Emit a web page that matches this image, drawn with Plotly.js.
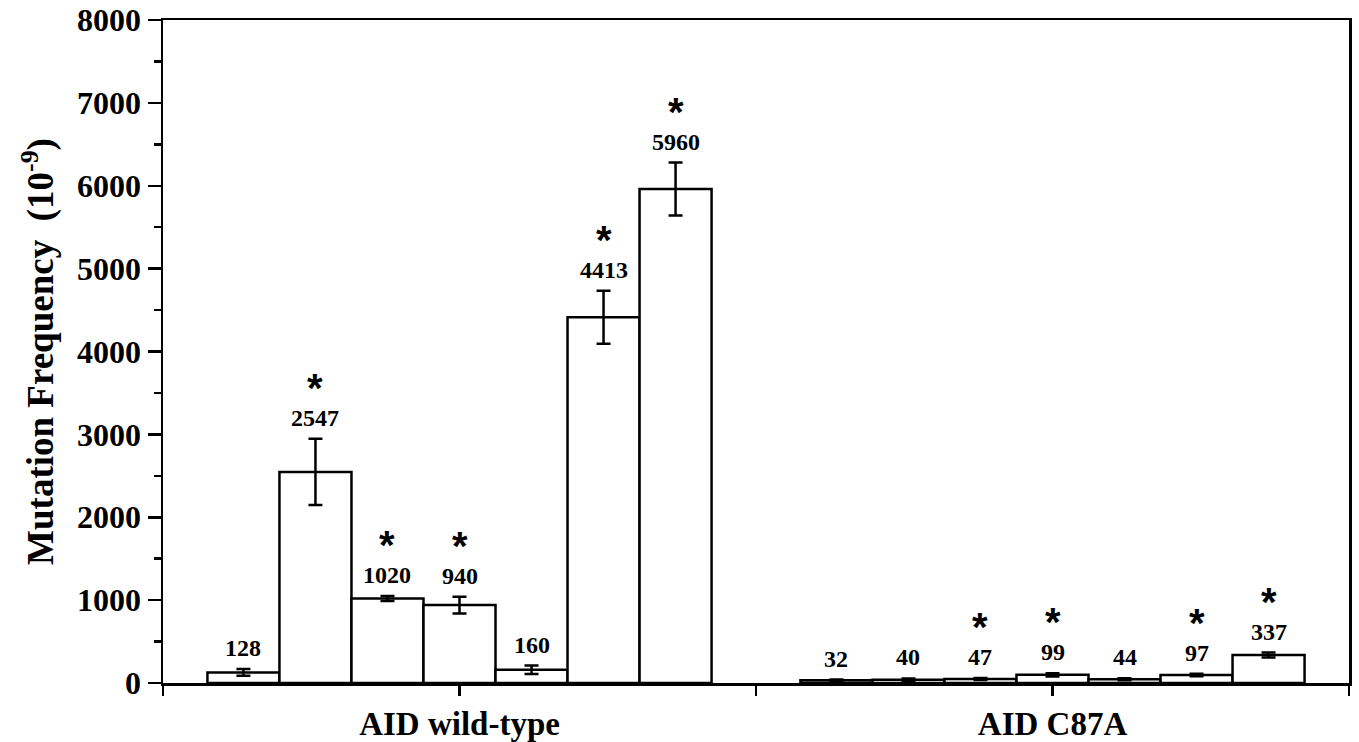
<!DOCTYPE html>
<html>
<head>
<meta charset="utf-8">
<script src="https://cdn.plot.ly/plotly-3.0.1.min.js"></script>
<style>html,body{margin:0;padding:0;background:#fff;}#chart{width:1359px;height:742px;}</style>
</head>
<body>
<div id="chart"></div>
<script>
// ---- data ----
const groups = ['AID wild-type', 'AID C87A'];
const wildType = [128, 2547, 1020, 940, 160, 4413, 5960];
const wildTypeErr = [40, 400, 30, 100, 50, 320, 320];
const wildTypeSig = [false, true, true, true, false, true, true];
const c87a = [32, 40, 47, 99, 44, 97, 337];
const c87aErr = [10, 15, 12, 20, 12, 15, 30];
const c87aSig = [false, false, true, true, false, true, true];
const yTickVals = [0, 1000, 2000, 3000, 4000, 5000, 6000, 7000, 8000];

// ---- build ----
const groupCenters = [1, 3];
const barW = 0.2429;
const series = [
  {vals: wildType, errs: wildTypeErr, sig: wildTypeSig},
  {vals: c87a, errs: c87aErr, sig: c87aSig}
];
const xs = [], ys = [], es = [], annotations = [];
const serif = 'Liberation Serif, Times New Roman, serif';
series.forEach((s, g) => {
  const n = s.vals.length;
  s.vals.forEach((v, i) => {
    const x = groupCenters[g] + (i - (n - 1) / 2) * barW;
    xs.push(x); ys.push(v); es.push(s.errs[i]);
    annotations.push({
      x: x, y: v + s.errs[i], xref: 'x', yref: 'y',
      text: String(v), showarrow: false, xanchor: 'center', yanchor: 'middle',
      yshift: 21, font: {family: serif, size: 24, color: '#000', weight: 'bold'}
    });
    if (s.sig[i]) {
      annotations.push({
        x: x, y: v + s.errs[i], xref: 'x', yref: 'y',
        text: '*', showarrow: false, xanchor: 'center', yanchor: 'middle',
        yshift: 51, font: {family: 'Liberation Sans, Arial, sans-serif', size: 40, color: '#000', weight: 'bold'}
      });
    }
  });
});

const trace = {
  type: 'bar', x: xs, y: ys, width: barW,
  marker: {color: '#ffffff', line: {color: '#000', width: 2.5}},
  error_y: {type: 'data', array: es, visible: true, color: '#000', thickness: 2.5, width: 7},
  hoverinfo: 'skip'
};

const layout = {
  width: 1359, height: 742,
  margin: {l: 163, r: 10, t: 20, b: 59},
  paper_bgcolor: '#fff', plot_bgcolor: '#fff',
  showlegend: false,
  xaxis: {
    range: [0, 4], tickmode: 'array', tickvals: groupCenters,
    ticktext: groups,
    ticks: 'outside', ticklen: 10, tickwidth: 2.5, tickcolor: '#000',
    minor: {tickmode: 'array', tickvals: [0, 2, 4], ticks: 'outside', ticklen: 10, tickwidth: 2.5, tickcolor: '#000', showgrid: false},
    showline: true, linecolor: '#000', linewidth: 2.5, mirror: true,
    showgrid: false, zeroline: false,
    tickfont: {family: serif, size: 33, color: '#000', weight: 'bold'}
  },
  yaxis: {
    range: [0, 8000], tickmode: 'array', tickvals: yTickVals,
    ticks: 'outside', ticklen: 13, tickwidth: 2.5, tickcolor: '#000',
    minor: {dtick: 500, ticks: 'outside', ticklen: 7, tickwidth: 2.5, tickcolor: '#000', showgrid: false},
    showline: true, linecolor: '#000', linewidth: 2.5, mirror: true,
    showgrid: false, zeroline: false,
    tickfont: {family: serif, size: 32, color: '#000', weight: 'bold'},
    title: {text: 'Mutation Frequency\u00a0\u00a0(10<sup>-9</sup>)', standoff: 12,
            font: {family: serif, size: 37, color: '#000', weight: 'bold'}}
  },
  annotations: annotations
};

Plotly.newPlot('chart', [trace], layout, {displayModeBar: false, staticPlot: true});
</script>
</body>
</html>
